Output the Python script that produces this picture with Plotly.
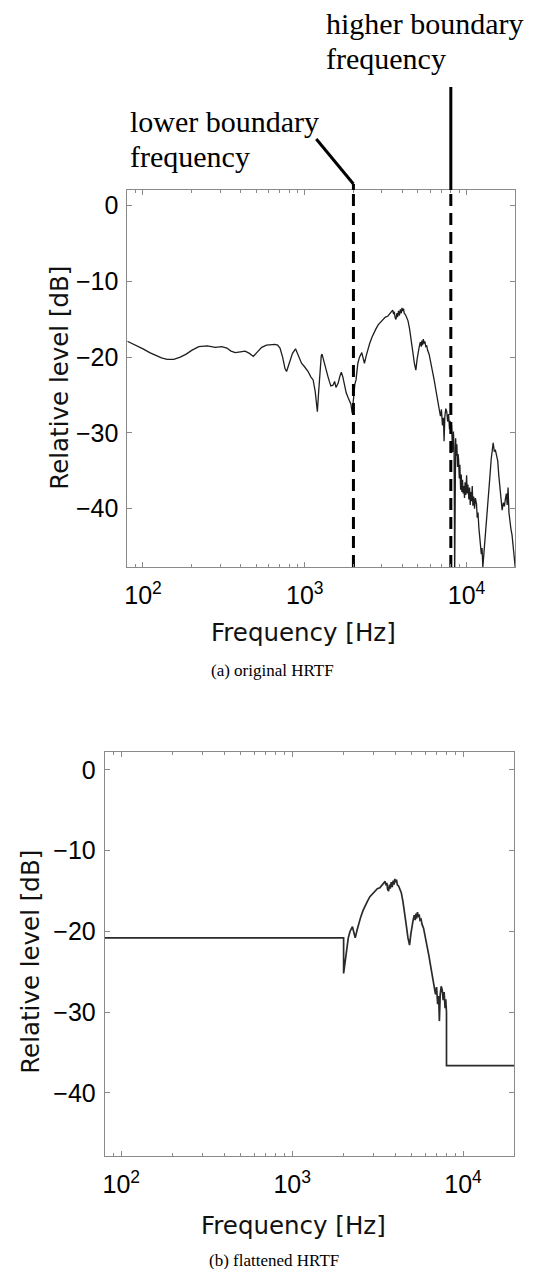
import math
import plotly.graph_objects as go

# ---------------- data ----------------
freq_hz = [
    80, 90, 100, 110, 120, 130, 141, 155, 170, 185, 200, 221, 250, 280, 307, 330, 350, 372,
    400, 428, 455, 481, 510, 542, 580, 620, 654, 680, 703, 730, 755, 772, 800, 840, 877, 910,
    955, 1000, 1049, 1090, 1127, 1160, 1185, 1197, 1215, 1240, 1265, 1279, 1300, 1340, 1393,
    1420, 1450, 1495, 1530, 1560, 1610, 1650, 1683, 1720, 1760, 1804, 1850, 1890, 1930, 1965,
    2000, 2040, 2075, 2130, 2180, 2253, 2300, 2339, 2400, 2454, 2520, 2600, 2673, 2750, 2850,
    2965, 3050, 3150, 3259, 3350, 3420, 3498, 3540, 3580, 3620, 3666, 3710, 3750, 3800, 3850,
    3900, 3950, 3990, 4030, 4080, 4120, 4200, 4280, 4350, 4450, 4531, 4650, 4760, 4863, 4950,
    5020, 5094, 5180, 5250, 5300, 5350, 5410, 5468, 5530, 5600, 5680, 5750, 5873, 6050, 6200,
    6310, 6500, 6650, 6767, 6900, 7000, 7100, 7200, 7268, 7350, 7450, 7550, 7650, 7750, 7850,
    7920, 8000, 8080, 8150, 8215, 8300, 8380, 8450, 8520, 8570, 8650, 8720, 8800, 8870, 8942,
    9020, 9100, 9199, 9280, 9360, 9450, 9540, 9638, 9720, 9800, 9900, 10014, 10100, 10200,
    10346, 10450, 10550, 10650, 10750, 10857, 10950, 11080, 11215, 11350, 11535, 11650, 11780,
    11924, 12050, 12212, 12350, 12480, 12617, 12750, 12924, 13100, 13295, 13500, 13737, 13950,
    14210, 14400, 14618, 14850, 15100, 15350, 15600, 15820, 16050, 16300, 16610, 16900, 17160,
    17400, 17640, 17850, 18070, 18300, 18490, 18800, 19130, 19570, 20000,
]
level_db = [
    -17.9, -18.4, -18.9, -19.4, -19.8, -20.1, -20.3, -20.3, -20.0, -19.6, -19.1, -18.6, -18.5,
    -18.7, -18.6, -18.8, -19.2, -19.4, -19.3, -19.2, -19.5, -19.9, -19.3, -18.7, -18.4, -18.3,
    -18.3, -18.4, -18.8, -20.0, -21.5, -21.9, -21.0, -19.5, -18.9, -19.7, -20.8, -21.3, -21.9,
    -22.6, -23.0, -24.5, -26.5, -27.2, -25.0, -21.5, -19.8, -19.6, -20.2, -21.5, -22.6, -23.2,
    -23.8, -23.7, -23.2, -24.0, -23.4, -22.5, -22.0, -22.6, -23.8, -24.7, -25.3, -25.8, -26.2,
    -27.4, -25.2, -23.6, -23.0, -20.8, -20.0, -19.4, -20.2, -20.8, -19.8, -18.9, -18.2, -17.4,
    -16.8, -16.3, -15.7, -15.3, -15.1, -14.7, -14.6, -14.3, -14.0, -13.8, -14.3, -14.0, -14.8,
    -15.0, -14.2, -14.7, -13.9, -14.5, -13.7, -14.2, -13.5, -13.9, -13.6, -14.2, -14.4, -14.9,
    -15.2, -16.3, -17.3, -19.2, -20.8, -21.7, -20.3, -19.2, -18.7, -18.0, -18.6, -17.8, -18.4,
    -17.6, -18.2, -17.9, -18.6, -18.5, -19.1, -19.6, -20.9, -22.2, -23.0, -24.6, -25.8, -26.5,
    -27.8, -26.9, -29.0, -28.0, -31.1, -27.8, -26.8, -27.2, -28.5, -27.5, -29.5, -28.4, -30.0,
    -29.0, -31.5, -32.5, -29.8, -31.8, -49.0, -31.2, -30.7, -33.0, -31.5, -34.5, -32.8, -33.5,
    -36.0, -34.2, -37.5, -35.5, -37.8, -36.2, -38.0, -37.0, -38.6, -36.5, -38.2, -35.6, -38.0,
    -36.8, -38.8, -37.2, -39.5, -37.8, -39.0, -37.0, -39.6, -38.4, -40.0, -38.6, -39.4, -41.2,
    -40.5, -42.5, -43.8, -44.5, -46.0, -45.2, -47.7, -46.5, -45.0, -43.5, -42.1, -40.0, -37.5,
    -35.8, -33.5, -32.2, -31.3, -32.4, -32.3, -33.0, -33.7, -35.5, -37.2, -38.8, -40.2, -39.2,
    -39.7, -38.7, -38.0, -39.5, -37.2, -40.5, -41.8, -42.6, -43.5, -45.5, -47.7,
]
boundary_low_hz = 2000
boundary_high_hz = 8000
flat_low_db = -20.8
flat_high_db = -36.6

y_tick_vals = [0, -10, -20, -30, -40]
x_tick_vals = [100, 1000, 10000]
x_tick_text = ["10<sup>2</sup>", "10<sup>3</sup>", "10<sup>4</sup>"]
x_minor_vals = [80, 90, 200, 300, 400, 500, 600, 700, 800, 900,
                2000, 3000, 4000, 5000, 6000, 7000, 8000, 9000, 20000]

# flattened HRTF built from the original one
mid = [(f, v) for f, v in zip(freq_hz, level_db) if boundary_low_hz <= f <= boundary_high_hz]
flat_x = [freq_hz[0], boundary_low_hz] + [f for f, _ in mid] + [boundary_high_hz, freq_hz[-1]]
flat_y = [flat_low_db, flat_low_db] + [v for _, v in mid] + [flat_high_db, flat_high_db]

# ---------------- layout geometry ----------------
W, H = 549, 1269
X_RANGE = [math.log10(80), math.log10(20000)]
TOP_DX = [125.0 / W, 515.0 / W]
TOP_DY = [1 - 567.0 / H, 1 - 190.0 / H]
BOT_DX = [102.3 / W, 514.3 / W]
BOT_DY = [1 - 1156.0 / H, 1 - 751.7 / H]
Y_TOP = [-47.7, 2.07]
Y_BOT = [-47.8, 2.25]

FRAME = "#8a8a8a"
TICKFONT = dict(family="Liberation Sans, Arial, sans-serif", size=25, color="black")
TITLEFONT = dict(family="DejaVu Sans, sans-serif", size=24.5, color="#111")
SERIF = "Liberation Serif, Times New Roman, serif"


def px(x):
    return x / W


def py(y):
    return 1 - y / H


def f2paper(f, dom):
    t = (math.log10(f) - X_RANGE[0]) / (X_RANGE[1] - X_RANGE[0])
    return dom[0] + t * (dom[1] - dom[0])


def xaxis(domain, anchor):
    return dict(
        type="log", range=X_RANGE, domain=domain, anchor=anchor,
        showline=True, linecolor=FRAME, linewidth=1, mirror="ticks",
        ticks="inside", ticklen=5, tickcolor=FRAME, tickwidth=1,
        tickmode="array", tickvals=x_tick_vals, ticktext=x_tick_text,
        tickfont=TICKFONT, ticklabelstandoff=6,
        minor=dict(ticks="inside", ticklen=3, tickcolor=FRAME, tickwidth=1,
                   tickmode="array", tickvals=x_minor_vals, showgrid=False),
        showgrid=False, zeroline=False, fixedrange=True,
    )


def yaxis(domain, anchor, rng):
    return dict(
        range=rng, domain=domain, anchor=anchor,
        showline=True, linecolor=FRAME, linewidth=1, mirror="ticks",
        ticks="inside", ticklen=5, tickcolor=FRAME, tickwidth=1,
        tickmode="array", tickvals=y_tick_vals,
        tickfont=TICKFONT, ticklabelstandoff=3,
        showgrid=False, zeroline=False, fixedrange=True,
    )


fig = go.Figure()

# (a) original HRTF
fig.add_trace(go.Scatter(x=freq_hz, y=level_db, mode="lines", xaxis="x", yaxis="y",
                         line=dict(color="#1e1e1e", width=1.3), showlegend=False))
for fb in (boundary_low_hz, boundary_high_hz):
    fig.add_trace(go.Scatter(x=[fb, fb], y=Y_TOP, mode="lines", xaxis="x", yaxis="y",
                             line=dict(color="black", width=3, dash="12px,7px"),
                             showlegend=False))

# (b) flattened HRTF
fig.add_trace(go.Scatter(x=flat_x, y=flat_y, mode="lines", xaxis="x2", yaxis="y2",
                         line=dict(color="#2a2a2a", width=1.7), showlegend=False))

# leader lines for the boundary annotations (above the top plot)
xl = f2paper(boundary_low_hz, TOP_DX)
xh = f2paper(boundary_high_hz, TOP_DX)
shapes = [
    dict(type="line", xref="paper", yref="paper", x0=px(315), y0=py(139), x1=xl, y1=py(184),
         line=dict(color="black", width=3)),
    dict(type="line", xref="paper", yref="paper", x0=xl, y0=py(184), x1=xl, y1=TOP_DY[1],
         line=dict(color="black", width=3)),
    dict(type="line", xref="paper", yref="paper", x0=xh, y0=py(87), x1=xh, y1=TOP_DY[1],
         line=dict(color="black", width=3)),
]

LABEL_FONT = dict(family=SERIF, size=30, color="black")


def label(text, x, y):
    return dict(text=text, x=px(x), y=py(y), xref="paper", yref="paper",
                xanchor="left", yanchor="middle", showarrow=False, font=LABEL_FONT)


annotations = [
    label("higher boundary", 323, 23),
    label("frequency", 323, 59),
    label("lower boundary", 126, 121),
    label("frequency", 126, 157),
    # axis titles
    dict(text="Frequency [Hz]", x=px(302), y=py(632), xref="paper", yref="paper",
         xanchor="center", yanchor="middle", showarrow=False, font=TITLEFONT),
    dict(text="Frequency [Hz]", x=px(292), y=py(1225), xref="paper", yref="paper",
         xanchor="center", yanchor="middle", showarrow=False, font=TITLEFONT),
    dict(text="Relative level [dB]", x=px(56), y=py(378), xref="paper", yref="paper",
         xanchor="center", yanchor="middle", textangle=-90, showarrow=False, font=TITLEFONT),
    dict(text="Relative level [dB]", x=px(27), y=py(962), xref="paper", yref="paper",
         xanchor="center", yanchor="middle", textangle=-90, showarrow=False, font=TITLEFONT),
    # captions
    dict(text="(a) original HRTF", x=px(271), y=py(670), xref="paper", yref="paper",
         xanchor="center", yanchor="middle", showarrow=False,
         font=dict(family=SERIF, size=17, color="black")),
    dict(text="(b) flattened HRTF", x=px(272), y=py(1260), xref="paper", yref="paper",
         xanchor="center", yanchor="middle", showarrow=False,
         font=dict(family=SERIF, size=17, color="black")),
]

fig.update_layout(
    width=W, height=H, margin=dict(l=0, r=0, t=0, b=0),
    paper_bgcolor="white", plot_bgcolor="white",
    xaxis=xaxis(TOP_DX, "y"), yaxis=yaxis(TOP_DY, "x", Y_TOP),
    xaxis2=xaxis(BOT_DX, "y2"), yaxis2=yaxis(BOT_DY, "x2", Y_BOT),
    shapes=shapes, annotations=annotations, showlegend=False, hovermode=False,
)

fig.write_html("out.html")
